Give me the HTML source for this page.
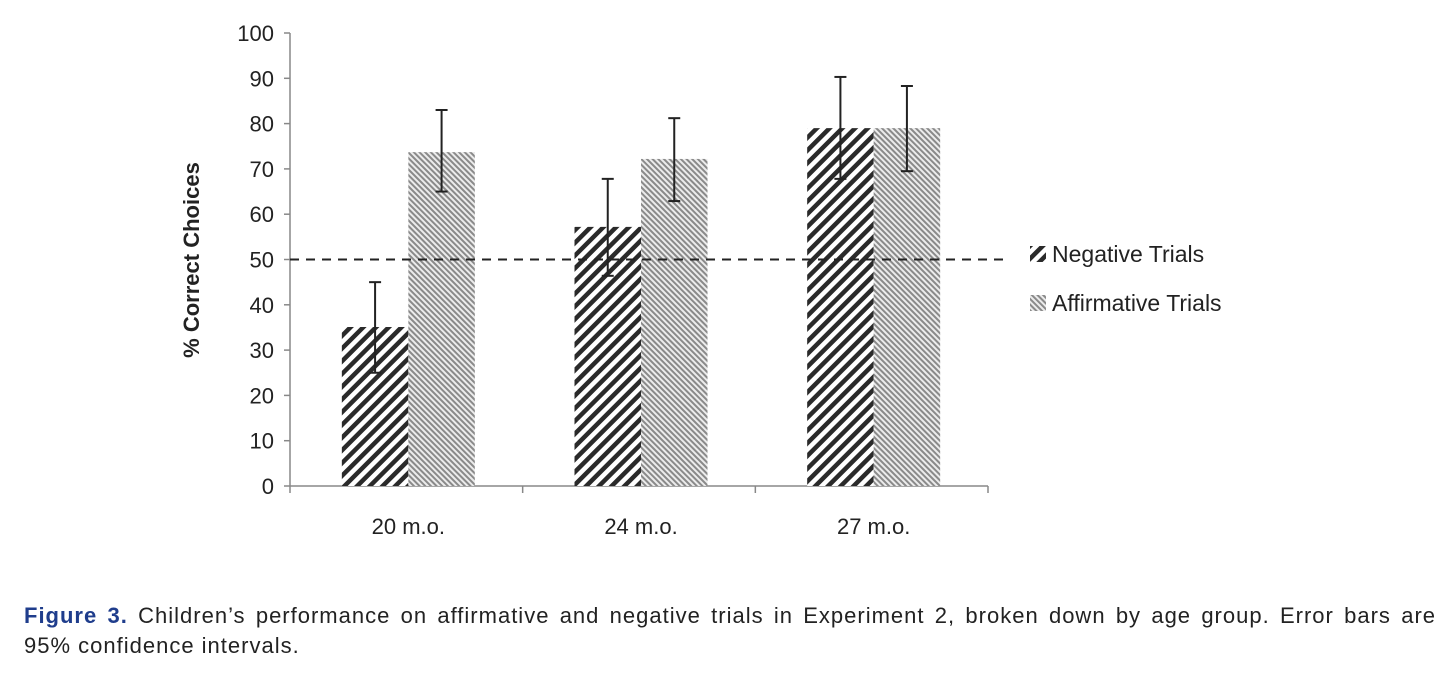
<!DOCTYPE html>
<html><head><meta charset="utf-8"><style>
body{margin:0;background:#fff;width:1452px;height:678px;overflow:hidden;font-family:"Liberation Sans",sans-serif;}
svg text{font-family:"Liberation Sans",sans-serif;}
#cap{position:absolute;left:24px;top:601px;width:1412px;font-size:22px;letter-spacing:1px;line-height:30px;color:#222;}
#cap .l1{text-align:justify;text-align-last:justify;white-space:nowrap;}
#cap b{color:#1f3d8c;font-weight:bold;}
</style></head><body>
<svg id="chart" width="1452" height="600" style="position:absolute;left:0;top:0">
<defs>
<pattern id="neg" patternUnits="userSpaceOnUse" width="9" height="9" patternTransform="rotate(45)">
<rect width="9" height="9" fill="#fff"/><rect width="4.5" height="9" fill="#2a2a2a"/></pattern>
<pattern id="aff" patternUnits="userSpaceOnUse" width="4" height="4" patternTransform="rotate(-45)">
<rect width="4" height="4" fill="#ececec"/><rect width="2" height="4" fill="#8a8a8a"/></pattern>
</defs>
<g id="g"></g>
</svg>
<div id="cap"><div class="l1"><b>Figure 3.</b> Children’s performance on affirmative and negative trials in Experiment 2, broken down by age group. Error bars are</div><div>95% confidence intervals.</div></div>
<script>
const categories=["20 m.o.","24 m.o.","27 m.o."];
const negValues=[35.1,57.2,79];
const affValues=[73.7,72.2,79];
const negLow=[25,46.4,67.8];
const negHigh=[45,67.8,90.3];
const affLow=[65,62.9,69.5];
const affHigh=[83,81.2,88.3];
const yTicks=[0,10,20,30,40,50,60,70,80,90,100];
const chanceLevel=50;
const NS="http://www.w3.org/2000/svg";
const g=document.getElementById('g');
const X0=290,X1=988,Y0=486,Y100=33;
const y=v=>Y0+(Y100-Y0)*v/100;
const cw=(X1-X0)/categories.length;
const bw=66.5;
function el(t,a,txt){const e=document.createElementNS(NS,t);for(const k in a)e.setAttribute(k,a[k]);if(txt!==undefined)e.textContent=txt;g.appendChild(e);return e;}
let e=el('line',{x1:X0,y1:Y100,x2:X0,y2:Y0,stroke:'#888','stroke-width':1.5});

e=el('line',{x1:X0,y1:Y0,x2:X1,y2:Y0,stroke:'#888','stroke-width':1.5});

yTicks.forEach(t=>{
 el('line',{x1:X0-6,x2:X0,y1:y(t),y2:y(t),stroke:'#888','stroke-width':1.5});
 const tx=el('text',{x:X0-16,y:y(t)+8,'text-anchor':'end','font-size':22,fill:'#222'},t);
 
});
for(let i=0;i<=categories.length;i++)el('line',{x1:X0+i*cw,x2:X0+i*cw,y1:Y0,y2:Y0+7,stroke:'#888','stroke-width':1.5});
categories.forEach((c,i)=>{
 const cx=X0+cw*(i+0.5)+2;
 const t=el('text',{x:cx,y:Y0+48,'text-anchor':'middle','font-size':22,fill:'#222'},c);
 
 [[negValues,negLow,negHigh,'url(#neg)',cx-bw,'bar-negative'],[affValues,affLow,affHigh,'url(#aff)',cx,'bar-affirmative']].forEach(([vals,lo,hi,f,x,nm])=>{
  const r=el('rect',{x:x,y:y(vals[i]),width:bw,height:Y0-y(vals[i]),fill:f});
  
  const ex=x+bw/2;
  const eb=el('line',{x1:ex,x2:ex,y1:y(hi[i]),y2:y(lo[i]),stroke:'#222','stroke-width':2});
  
  el('line',{x1:ex-6,x2:ex+6,y1:y(hi[i]),y2:y(hi[i]),stroke:'#222','stroke-width':2});
  el('line',{x1:ex-6,x2:ex+6,y1:y(lo[i]),y2:y(lo[i]),stroke:'#222','stroke-width':2});
 });
});
e=el('line',{x1:X0,x2:1008,y1:y(chanceLevel),y2:y(chanceLevel),stroke:'#222','stroke-width':2,'stroke-dasharray':'9,7'});

e=el('text',{x:0,y:0,transform:'translate(199,260) rotate(-90)','text-anchor':'middle','font-size':22,'font-weight':'bold',fill:'#222'},'% Correct Choices');

[['url(#neg)','Negative Trials',254,'legend-negative'],['url(#aff)','Affirmative Trials',303,'legend-affirmative']].forEach(([f,l,ly,nm])=>{
 el('rect',{x:1030,y:ly-8,width:16,height:16,fill:f});
 const t=el('text',{x:1052,y:ly+8,'font-size':23,fill:'#222'},l);
 
});
</script>
</body></html>
